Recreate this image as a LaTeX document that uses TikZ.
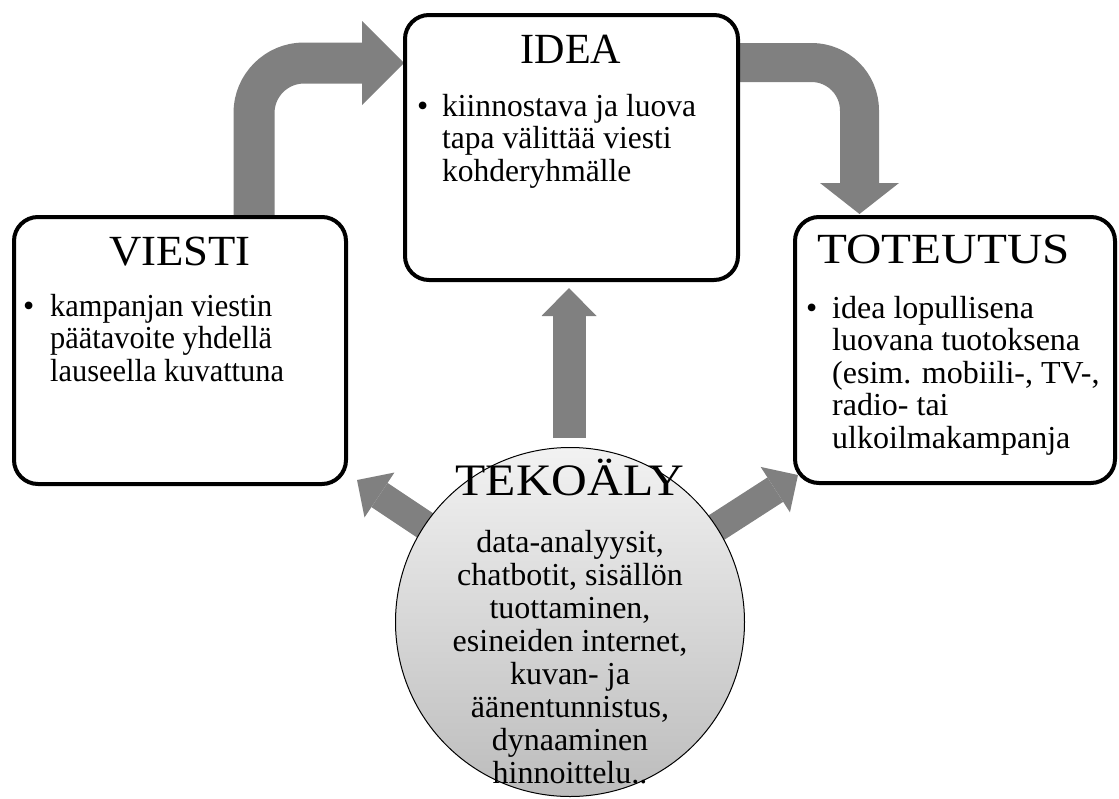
\documentclass[tikz,border=0pt]{standalone}
\usepackage{fontspec}
\setmainfont{Liberation Serif}
\usetikzlibrary{arrows.meta,backgrounds,calc}
\definecolor{arrowgray}{RGB}{128,128,128}
\definecolor{circtop}{RGB}{242,242,242}
\definecolor{circbot}{RGB}{188,188,188}
\newcommand{\bodyfont}{\fontsize{32}{32.5}\selectfont}
\begin{document}
\begin{tikzpicture}[x=1pt,y=-1pt,
  box/.style={draw=black, line width=4pt, rounded corners=24pt, fill=white, rectangle, inner sep=0pt},
  ttl/.style={font=\fontsize{43}{43}\selectfont, inner sep=0pt, anchor=base},
  bul/.style={font=\bodyfont, inner sep=0pt, anchor=base west},
  bodytext/.style={inner sep=0pt, anchor=base west},
  arr/.style={draw=arrowgray, line cap=butt},
]
\useasboundingbox (0,0) rectangle (1119,798);
% boxes
\node[box, minimum width=332pt, minimum height=267pt] (viesti) at (180,350.5) {};
\node[box, minimum width=333pt, minimum height=265pt] (idea) at (571.5,147.5) {};
\node[box, minimum width=320pt, minimum height=266pt] (tot) at (955,350) {};
\node[circle, draw=black, line width=1pt, minimum size=349pt, inner sep=0pt,
      top color=circtop, bottom color=circbot] (tek) at (570,622) {};
% connector end points
\coordinate (vUp) at (254,217);
\coordinate (iIn) at (404,63);
\coordinate (iOut) at (738,62.5);
\coordinate (tIn) at (859.5,214);
\coordinate (upS) at (569,438);
\coordinate (upE) at (569,288);
\coordinate (lTip) at (357,480);
\coordinate (rTip) at (798,475);
% arrows
\begin{scope}[on background layer]
\draw[arr, line width=41pt, rounded corners=50pt,
  -{Triangle[length=42pt,width=84pt,line width=0pt]}] (vUp) |- (iIn);
\draw[arr, line width=39pt, rounded corners=48pt,
  -{Triangle[length=31pt,width=79pt,line width=0pt]}] (iOut) -| (tIn);
\draw[arr, line width=33pt,
  -{Triangle[length=28pt,width=55pt,line width=0pt]}] (upS) -- (upE);
\draw[arr, line width=29pt,
  -{Triangle[length=27pt,width=54pt,line width=0pt]}] (tek.center) -- (lTip);
\draw[arr, line width=29pt,
  -{Triangle[length=27pt,width=54pt,line width=0pt]}] (tek.center) -- (rTip);
\end{scope}
% titles
\node[ttl] (viestiT) at (180,265) {\scalebox{1.04}[1]{VIESTI}};
\node[ttl] (ideaT) at (571,63) {\scalebox{0.98}[1]{IDEA}};
\node[ttl] (totT) at (943.5,263) {\scalebox{1.14}[1]{TOTEUTUS}};
\node[ttl, font=\fontsize{45}{45}\selectfont] (tekT) at (570,495) {\scalebox{1.1}[1]{TEKOÄLY}};
% bullets
\node[bul] (viestiB) at (23,316) {•};
\node[bul] (ideaB) at (417,116) {•};
\node[bul] (totB) at (806,318) {•};
% bodies
\node[bodytext] (viestiX) at (50,316) {\scalebox{0.95}[1]{\parbox[t]{320pt}{\raggedright\bodyfont
kampanjan viestin\\päätavoite yhdellä\\lauseella kuvattuna}}};
\node[bodytext] (ideaX) at (442,116) {\scalebox{0.985}[1]{\parbox[t]{300pt}{\raggedright\bodyfont
kiinnostava ja luova\\tapa välittää viesti\\kohderyhmälle}}};
\node[bodytext] (totX) at (832,318) {\parbox[t]{300pt}{\raggedright\bodyfont
idea lopullisena\\luovana tuotoksena\\(esim. mobiili-, TV-,\\radio- tai\\ulkoilmakampanja}};
\node[inner sep=0pt, anchor=base] (tekX) at (570,552) {\parbox[t]{360pt}{\centering\fontsize{32}{33}\selectfont
data-analyysit,\\chatbotit, sisällön\\tuottaminen,\\esineiden internet,\\kuvan- ja\\äänentunnistus,\\dynaaminen\\hinnoittelu..}};
\end{tikzpicture}
\end{document}
